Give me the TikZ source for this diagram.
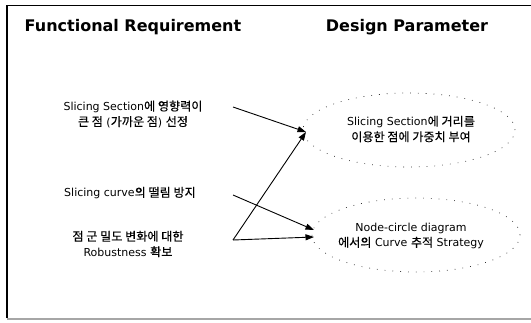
\documentclass[tikz,border=0pt]{standalone}
\usepackage{fontspec}
\setmainfont{DejaVu Sans}
\newfontfamily\kr[FakeBold=0.3,Scale=1.1]{Noto Sans CJK KR}
\newfontfamily\lat{DejaVu Sans}
\usetikzlibrary{arrows.meta,shapes.geometric}
\begin{document}
\begin{tikzpicture}[x=1pt,y=-1pt,
  title/.style={font=\fontsize{16}{20}\selectfont\bfseries, inner sep=0pt},
  body/.style={font=\fontsize{11}{15.5}\selectfont\lat, align=center, inner sep=0pt},
  dpell/.style={draw=black!80, line width=0.7pt, dash pattern=on 0.8pt off 7pt},
  conn/.style={line width=0.9pt, -{Triangle[length=8.5pt,width=6pt]}},
]
\useasboundingbox (0,0) rectangle (531,322);
% frame
\draw[line width=1.6pt] (7,318) -- (7,5);
\draw[line width=0.8pt] (7,5) -- (531,5);
\draw[line width=1.4pt, black!35] (7,319) -- (531,319);
% titles
\node[title] (frt) at (133,27) {Functional Requirement};
\node[title] (dpt) at (407,27) {Design Parameter};
% functional requirements
\node[body] (fr1) at (133,114) {Slicing Section{\kr 에 영향력이}\\{\kr 큰 점} ({\kr 가까운 점}) {\kr 선정}};
\node[body] (fr2) at (130,193) {Slicing curve{\kr 의 떨림 방지}};
\node[body] (fr3) at (128,244) {{\kr 점 군 밀도 변화에 대한}\\Robustness {\kr 확보}};
% design parameters
\node[body] (dp1) at (411,129) {Slicing Section{\kr 에 거리를}\\{\kr 이용한 점에 가중치 부여}};
\node[body] (dp2) at (411,236) {Node-circle diagram\\{\kr 에서의} Curve {\kr 추적} Strategy};
\node[dpell, ellipse, minimum width=212pt, minimum height=74pt] (e1) at (409,130) {};
\node[dpell, ellipse, minimum width=208pt, minimum height=74pt] (e2) at (416,235) {};
% connector end points
\coordinate (s1) at (233,107);
\coordinate (s2) at (233,195);
\coordinate (s3) at (233,240);
\coordinate (t1) at (306,132);
\coordinate (t2a) at (314,230);
\coordinate (t2b) at (314,237);
\draw[conn] (s1) -- (t1);
\draw[conn] (s3) -- (t1);
\draw[conn] (s2) -- (t2a);
\draw[conn] (s3) -- (t2b);
\end{tikzpicture}
\end{document}
